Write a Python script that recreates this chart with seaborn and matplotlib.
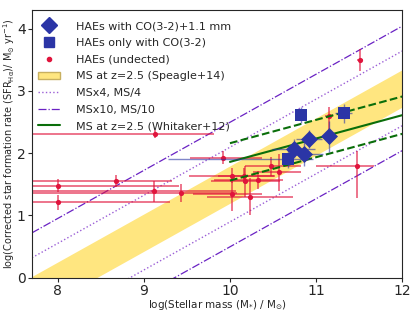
import numpy as np
import pandas as pd
import matplotlib
matplotlib.use('Agg')
import matplotlib.pyplot as plt
import seaborn as sns
from matplotlib.patches import Patch
from matplotlib.lines import Line2D

# HAEs undetected (red)
red_mass = [8.00, 8.00, 8.68, 9.13, 9.12, 9.43, 9.92, 10.02, 10.02, 10.16, 10.18, 10.23, 10.32, 10.48, 10.57, 11.15, 11.51, 11.47]
red_sfr = [1.48, 1.21, 1.55, 2.31, 1.39, 1.36, 1.93, 1.64, 1.34, 1.64, 1.55, 1.30, 1.57, 1.79, 1.69, 2.60, 3.50, 1.80]
red_xlo = [0.60, 0.60, 1.30, 1.50, 1.50, 1.80, 0.38, 0.50, 0.45, 0.30, 0.40, 0.50, 0.50, 0.30, 0.30, 0.05, 0.03, 0.47]
red_xhi = [1.41, 1.30, 0.65, 0.69, 0.95, 0.65, 0.45, 0.50, 0.35, 0.35, 0.40, 0.50, 0.30, 0.35, 0.25, 0.05, 0.03, 0.20]
red_ylo = [0.10, 0.12, 0.10, 0.07, 0.17, 0.15, 0.10, 0.12, 0.27, 0.12, 0.25, 0.30, 0.15, 0.15, 0.30, 0.45, 0.18, 0.52]
red_yhi = [0.10, 0.12, 0.10, 0.07, 0.17, 0.15, 0.10, 0.12, 0.27, 0.12, 0.25, 0.30, 0.15, 0.15, 0.30, 0.14, 0.18, 0.23]

# HAEs with CO(3-2)+1.1 mm (diamonds)
dia_mass = [10.74, 10.86, 10.92, 11.15]
dia_sfr = [2.07, 1.99, 2.23, 2.27]
dia_xerr = [0.25, 0.22, 0.15, 0.05]
dia_yerr = [0.15, 0.20, 0.15, 0.25]

# HAEs only with CO(3-2) (squares)
sq_mass = [10.67, 10.82, 11.32]
sq_sfr = [1.91, 2.61, 2.64]
sq_xlo = [1.39, 0.06, 0.10]
sq_xhi = [0.30, 0.06, 0.10]
sq_yerr = [0.15, 0.13, 0.15]

# main sequence lines (endpoints)
ms_mass = [7.7, 12.0]
ms_sfr = [-0.28, 3.04]        # Speagle+14 at z=2.5
ms_width = 0.3
wh_mass = [10.0, 12.0]
wh_sfr = [1.86, 2.61]          # Whitaker+12 at z=2.5
wh_scatter = 0.3

RED = '#e0143c'
BLUE = '#2b35a6'
GREEN = '#0a6e0a'
PURPLE_DOT = '#9b5fd6'
PURPLE_DASH = '#6a22c4'

sns.set_style('ticks')
plt.rcParams['font.family'] = ['DejaVu Sans']

fig = plt.figure(figsize=(4.15, 3.12), dpi=100)
ax = fig.add_axes([0.077, 0.11, 0.892, 0.858])

ms_x = np.array(ms_mass)
ms_y = np.array(ms_sfr)
ax.fill_between(ms_x, ms_y - ms_width, ms_y + ms_width, color='#ffe680', lw=0, zorder=0)
for off in [0.6, -0.6]:
    sns.lineplot(x=ms_x, y=ms_y + off, ax=ax, color=PURPLE_DOT, lw=1.0, ls=':', zorder=1)
for off in [1.0, -1.0]:
    sns.lineplot(x=ms_x, y=ms_y + off, ax=ax, color=PURPLE_DASH, lw=0.9, ls='-.', zorder=1)

wh_x = np.array(wh_mass)
wh_y = np.array(wh_sfr)
sns.lineplot(x=wh_x, y=wh_y, ax=ax, color=GREEN, lw=1.5, zorder=4)
for off in [wh_scatter, -wh_scatter]:
    sns.lineplot(x=wh_x, y=wh_y + off, ax=ax, color=GREEN, lw=1.5, ls='--', zorder=4)

ax.errorbar(red_mass, red_sfr, xerr=[red_xlo, red_xhi], yerr=[red_ylo, red_yhi],
            fmt='none', ecolor=RED, alpha=0.75, elinewidth=1.1, zorder=2)
sns.scatterplot(x=red_mass, y=red_sfr, ax=ax, color=RED, marker='o', s=14, linewidth=0, zorder=3)

ax.errorbar(sq_mass, sq_sfr, xerr=[sq_xlo, sq_xhi], yerr=sq_yerr,
            fmt='none', ecolor=BLUE, alpha=0.6, elinewidth=1.0, zorder=5)
sns.scatterplot(x=sq_mass, y=sq_sfr, ax=ax, color=BLUE, marker='s', s=75, linewidth=0, zorder=6)
ax.errorbar(dia_mass, dia_sfr, xerr=dia_xerr, yerr=dia_yerr,
            fmt='none', ecolor=BLUE, alpha=0.6, elinewidth=1.0, zorder=5)
sns.scatterplot(x=dia_mass, y=dia_sfr, ax=ax, color=BLUE, marker='D', s=75, linewidth=0, zorder=6)

ax.set_xlim(7.7, 12)
ax.set_ylim(0, 4.3)
ax.set_xticks([8, 9, 10, 11, 12])
ax.set_yticks([0, 1, 2, 3, 4])
ax.tick_params(labelsize=10, length=3, pad=1.5)
ax.set_xlabel(r'log(Stellar mass (M$_{*}$) / M$_{\odot}$)', fontsize=7.5, labelpad=0)
ax.set_ylabel(r'log(Corrected star formation rate (SFR$_{\rm H\alpha}$)/ M$_{\odot}$ yr$^{-1}$)',
              fontsize=7, labelpad=0)

handles = [
    Line2D([], [], ls='none', marker='D', color=BLUE, markersize=8),
    Line2D([], [], ls='none', marker='s', color=BLUE, markersize=7.5),
    Line2D([], [], ls='none', marker='o', color=RED, markersize=3),
    Patch(facecolor='#ffe680', edgecolor='#c8b060'),
    Line2D([], [], color=PURPLE_DOT, ls=':', lw=1.0),
    Line2D([], [], color=PURPLE_DASH, ls='-.', lw=0.9),
    Line2D([], [], color=GREEN, lw=1.5),
]
labels = ['HAEs with CO(3-2)+1.1 mm', 'HAEs only with CO(3-2)', 'HAEs (undected)',
          'MS at z=2.5 (Speagle+14)', 'MSx4, MS/4', 'MSx10, MS/10', 'MS at z=2.5 (Whitaker+12)']
ax.legend(handles, labels, loc='upper left', fontsize=8, frameon=False,
          bbox_to_anchor=(-0.01, 0.995), handlelength=2.0, handletextpad=1.4, labelspacing=0.6)

fig.savefig('out.png', dpi=100)
